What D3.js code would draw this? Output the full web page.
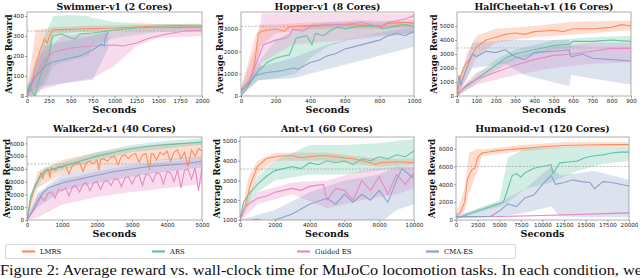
<!DOCTYPE html>
<html>
<head>
<meta charset="utf-8">
<script src="https://cdn.jsdelivr.net/npm/d3@7"></script>
<style>
  body { margin: 0; background: #fff; }
  svg { display: block; }
</style>
</head>
<body>
<svg id="chart" width="640" height="278"></svg>
<script>
// methods and colours (Set2)
const methods = ["LMRS", "ARS", "Guided ES", "CMA-ES"];
const colors = ["#fc8d62", "#66c2a5", "#e78ac3", "#8da0cb"];

// ---------- Swimmer-v1 ----------
const swimmerLMRS = [[0,5],[50,60],[100,150],[150,230],[200,285],[230,265],[260,300],[290,330],[400,332],[600,335],[800,338],[1000,340],[1250,345],[1500,350],[1750,352],[2000,350]];
const swimmerLMRSBand = [[0,0,30],[100,0,330],[250,120,340],[300,310,345],[600,320,350],[1000,325,355],[2000,335,362]];
const swimmerARS = [[0,10],[30,60],[60,20],[90,0],[110,40],[150,100],[200,150],[250,200],[280,280],[300,300],[400,310],[500,290],[550,285],[600,310],[750,315],[1000,330],[1250,340],[1500,345],[1750,343],[2000,345]];
const swimmerARSBand = [[0,0,40],[100,0,120],[200,50,300],[300,150,400],[500,180,405],[700,200,400],[750,250,390],[1000,290,370],[1500,320,360],[2000,320,360]];
const swimmerGES = [[0,0],[100,100],[200,180],[300,220],[500,240],[750,250],[1000,255],[1100,250],[1250,265],[1400,290],[1600,310],[1800,325],[2000,330]];
const swimmerGESBand = [[0,0,30],[150,30,200],[400,60,300],[750,90,310],[1000,150,320],[1250,250,330],[1500,290,340],[2000,300,350]];
const swimmerCMA = [[0,0],[50,60],[100,100],[150,120],[200,150],[300,170],[400,180],[500,190],[600,200],[700,220],[750,230],[800,245],[850,260],[880,250],[900,300],[930,320]];
const swimmerCMABand = [[0,0,40],[100,40,180],[200,50,250],[500,70,280],[750,80,300],[930,240,330]];

// ---------- Hopper-v1 ----------
const hopperLMRS = [[0,200],[50,600],[80,1500],[100,2800],[120,2900],[200,3000],[250,2900],[280,3100],[400,3150],[600,3200],[800,3150],[810,3050],[850,3250],[950,3300],[1000,3250]];
const hopperLMRSBand = [[0,100,300],[80,900,2600],[110,2200,3200],[200,2800,3200],[400,3000,3300],[800,3000,3300],[1000,3100,3400]];
const hopperARS = [[0,200],[50,600],[100,1100],[150,1500],[200,1700],[280,1850],[320,2600],[380,2700],[410,2300],[430,2800],[480,2700],[510,2900],[560,3100],[600,3000],[700,3150],[800,3100],[820,3000],[900,3150],[950,3200],[1000,3100]];
const hopperARSBand = [[0,100,300],[100,700,1500],[200,800,2500],[320,1000,3000],[400,1700,3200],[500,2200,3300],[700,2700,3400],[1000,2800,3300]];
const hopperGES = [[0,300],[50,700],[100,1700],[130,2300],[200,2500],[260,2600],[280,2700],[300,3000],[360,2900],[400,3100],[500,3200],[600,3200],[700,3300],[800,3100],[850,3300],[950,3450],[1000,3600]];
const hopperGESBand = [[0,200,400],[100,1000,2500],[120,1500,3700],[300,2300,3700],[600,2500,3700],[1000,2800,3700]];
const hopperCMA = [[0,0],[30,300],[80,900],[120,1000],[150,1050],[200,1100],[250,1150],[300,1250],[330,1200],[400,1500],[450,1600],[500,1800],[550,1900],[600,2100],[650,2200],[700,2300],[750,2400],[800,2500],[850,2700],[900,2800],[950,2700],[1000,2900]];
const hopperCMABand = [[0,0,200],[100,700,1300],[300,800,1700],[500,1200,2300],[700,1600,2700],[1000,2200,3100]];

// ---------- HalfCheetah-v1 ----------
const cheetahLMRS = [[0,0],[20,1500],[40,2200],[70,2700],[100,3500],[150,4000],[200,4200],[250,4400],[300,4500],[350,4400],[400,4600],[500,4700],[550,4600],[600,4800],[700,4800],[800,4900],[850,5100],[900,5000]];
const cheetahLMRSBand = [[0,0,300],[50,1200,3000],[100,2800,4300],[200,3800,4800],[400,4200,5000],[600,4400,5300],[900,4700,5400]];
const cheetahARS = [[0,0],[30,500],[80,1000],[150,1700],[200,2200],[250,2700],[300,3000],[400,3300],[500,3600],[580,3700],[600,3900],[700,3900],[800,4000],[900,3900]];
const cheetahARSBand = [[0,0,200],[100,900,1500],[200,1800,2600],[300,2600,3300],[500,3300,4000],[700,3600,4200],[900,3600,4300]];
const cheetahGES = [[0,0],[50,800],[100,1200],[200,1700],[300,2200],[400,2600],[500,2900],[600,3000],[700,3200],[800,3400],[900,3400]];
const cheetahGESBand = [[0,0,300],[100,800,1700],[300,1500,2800],[500,2000,3500],[700,2300,3800],[900,2400,3800]];
const cheetahCMA = [[0,200],[10,1500],[20,800],[50,2000],[80,3000],[100,2800],[150,3200],[200,3100],[250,3300],[300,2800],[350,2600],[400,3100],[500,3200],[580,3300],[590,2800],[650,3000],[700,2700],[800,2600],[900,2500]];
const cheetahCMABand = [[0,0,600],[80,2000,3800],[250,2300,4000],[350,1500,4000],[580,700,4000],[590,1500,3600],[900,800,3600]];

// ---------- Walker2d-v1 ----------
const walkerLMRS = [[0,0],[100,1500],[200,2400],[300,3000],[400,3700],[450,3200],[500,3800],[600,4000],[650,3300],[700,4100],[800,3900],[900,4200],[1000,4100],[1100,4300],[1200,3600],[1300,4300],[1400,4400],[1500,4500],[1600,3800],[1700,4500],[1800,4600],[1900,4400],[2000,4700],[2050,3900],[2100,4700],[2200,4800],[2300,4600],[2400,4900],[2500,5000],[2600,4300],[2700,5000],[2800,5100],[2900,4800],[3000,5100],[3100,5200],[3200,4500],[3300,5100],[3400,5200],[3500,3900],[3550,5200],[3600,5200],[3700,4700],[3800,5300],[3900,5100],[4000,5400],[4100,4600],[4200,5300],[4300,5500],[4400,4800],[4500,5300],[4600,4200],[4700,5500],[4800,5000],[4900,5600],[5000,5400]];
const walkerLMRSBand = [[0,0,300],[300,2500,3800],[1000,3600,4700],[2000,4100,5300],[3000,4500,5700],[4000,4700,6000],[5000,4800,6100]];
const walkerARS = [[0,0],[100,1800],[200,2500],[350,3300],[500,3800],[1000,4200],[1500,4600],[2000,5000],[2500,5300],[3000,5600],[3500,5800],[4000,5900],[4500,6000],[5000,6100]];
const walkerARSBand = [[0,0,200],[200,2200,2800],[500,3500,4100],[1000,3900,4500],[2000,4700,5300],[3000,5300,5900],[4000,5600,6200],[5000,5900,6400]];
const walkerCMA = [[0,0],[150,700],[300,1500],[450,2100],[600,2500],[800,2700],[1000,2900],[1500,3200],[2000,3500],[2500,3800],[3000,4000],[3500,4200],[4000,4300],[4500,4400],[5000,4600]];
const walkerCMABand = [[0,0,200],[300,1000,2100],[1000,2300,3600],[2000,2900,4100],[3000,3400,4500],[4000,3800,4800],[5000,4100,5000]];
const walkerGES = [[0,0],[200,800],[300,1300],[400,1800],[500,1500],[600,2100],[700,2200],[800,1700],[900,2400],[1000,2300],[1100,2500],[1200,1900],[1300,2600],[1400,2700],[1500,2200],[1600,2800],[1700,2900],[1800,2300],[1900,2900],[2000,3000],[2100,2400],[2200,3000],[2300,3100],[2400,2700],[2500,3200],[2600,3200],[2700,2600],[2800,3300],[2900,3400],[3000,2800],[3100,3400],[3200,3500],[3300,2700],[3400,3600],[3500,3500],[3600,3000],[3700,3700],[3800,3600],[3900,2800],[4000,3800],[4100,3700],[4200,3000],[4300,3900],[4400,2500],[4500,3900],[4600,4000],[4700,3200],[4800,4100],[4900,2300],[5000,4100]];
const walkerGESBand = [[0,0,200],[300,200,2000],[1000,1200,3200],[2000,1800,3800],[3000,2200,4300],[4000,2500,4600],[5000,2800,4800]];

// ---------- Ant-v1 ----------
const antLMRS = [[0,1000],[300,1700],[600,2800],[1000,3700],[1500,4100],[2000,4200],[2500,4250],[3000,4250],[3500,4150],[4000,4200],[4500,4250],[5000,4250],[5500,4200],[6000,4150],[6500,4100],[7000,4000],[7500,3900],[7800,3800],[8000,3900],[9000,3950],[10000,3900]];
const antLMRSBand = [[0,900,1100],[500,1800,3200],[1000,3300,4000],[2000,4000,4400],[5000,4000,4400],[8000,3700,4100],[10000,3800,4100]];
const antARS = [[0,1100],[200,1900],[500,2300],[1000,2800],[1500,3200],[2000,3500],[2500,3600],[3000,3700],[3500,3600],[4000,3900],[4500,3800],[5000,4000],[5500,3900],[6000,4000],[6500,3800],[7000,4100],[7500,4000],[8000,4200],[8500,4100],[9000,4300],[9500,4200],[10000,4500]];
const antARSBand = [[0,1000,1200],[1000,2400,3200],[2000,3000,4000],[4000,3300,4800],[6000,3300,4800],[8000,3500,4900],[10000,3800,5100]];
const antGES = [[0,1000],[300,1700],[1000,2100],[1500,2200],[2000,2400],[2500,2500],[3000,2600],[3500,2500],[4000,2700],[4800,2800],[5000,2000],[5500,2600],[6000,2500],[6500,2000],[7000,3000],[7500,2500],[8000,3200],[8500,2300],[9000,3300],[9500,2800],[10000,3400]];
const antGESBand = [[0,900,1100],[1000,1800,2400],[3000,2300,2900],[5000,1600,3000],[7000,2000,3500],[9000,2300,3700],[10000,2600,3800]];
const antCMA = [[0,900],[500,950],[1000,1050],[1500,900],[2000,1000],[3000,1300],[4000,1800],[5000,2100],[5500,1800],[6000,2300],[6500,1900],[7000,2300],[7500,2000],[8000,2500],[8500,1900],[9000,3000],[9300,3600],[10000,3100]];
const antCMABand = [[0,800,1000],[2000,800,1500],[4000,800,2400],[6000,800,3000],[8000,800,3300],[9000,1500,3700],[10000,1800,3700]];

// ---------- Humanoid-v1 ----------
const humanLMRS = [[0,500],[500,800],[1000,2000],[1300,4500],[1800,5600],[2200,5800],[2500,7000],[3000,7500],[5000,7800],[7500,8000],[10000,8200],[12500,8350],[15000,8400],[17500,8450],[20000,8450]];
const humanLMRSBand = [[0,300,700],[1000,1000,3500],[1500,3000,7500],[2500,5500,8000],[3000,7200,7900],[7500,7700,8400],[12500,8100,8700],[20000,8250,8700]];
const humanARS = [[0,200],[1000,500],[2500,1000],[4000,1500],[5500,2000],[6000,3500],[6500,5000],[7000,5200],[7500,4800],[8000,5300],[9000,5800],[10000,6000],[11000,6200],[11200,5200],[12000,6400],[13000,6500],[14000,6600],[15000,7000],[16000,7200],[17000,7300],[18000,7500],[19000,7600],[20000,7600]];
const humanARSBand = [[0,100,300],[5000,1500,2200],[6000,2000,7000],[8000,3500,8000],[11000,4200,8100],[14000,5500,8200],[17000,6300,8200],[20000,6600,8200]];
const humanGES = [[0,300],[5000,400],[10000,500],[15000,650],[20000,800]];
const humanGESBand = [[0,250,350],[10000,450,550],[20000,700,900]];
const humanCMA = [[0,400],[4000,400],[5000,1000],[6000,1800],[7000,1500],[8000,2500],[9000,2800],[10000,4000],[11000,5000],[11500,4000],[12500,4200],[13500,4500],[14500,4300],[15500,4200],[16000,3500],[17000,4300],[18000,4200],[19000,4000],[20000,3800]];
const humanCMABand = [[0,300,500],[5000,400,2000],[8000,800,3500],[11000,1500,6000],[12000,400,5000],[16000,300,5500],[20000,300,4500]];

// panels: title, axis domains, ticks, threshold, series (in legend order)
const panels = [
  { title: "Swimmer-v1 (2 Cores)", box: [27, 12, 202, 96], xMax: 2000, xTicks: d3.range(0, 2001, 250), yDom: [0, 420], yTicks: [0,100,200,300,400], thr: 325, yLab: 12,
    series: [[swimmerLMRS, swimmerLMRSBand], [swimmerARS, swimmerARSBand], [swimmerGES, swimmerGESBand], [swimmerCMA, swimmerCMABand]] },
  { title: "Hopper-v1 (8 Cores)", box: [241, 12, 414, 96], xMax: 1000, xTicks: d3.range(0, 1001, 200), yDom: [0, 3760], yTicks: [0,1000,2000,3000], thr: 3120, yLab: 223,
    series: [[hopperLMRS, hopperLMRSBand], [hopperARS, hopperARSBand], [hopperGES, hopperGESBand], [hopperCMA, hopperCMABand]] },
  { title: "HalfCheetah-v1 (16 Cores)", box: [457, 12, 631, 96], xMax: 900, xTicks: d3.range(0, 901, 100), yDom: [0, 6000], yTicks: [0,1000,2000,3000,4000,5000], thr: 3430, yLab: 437,
    series: [[cheetahLMRS, cheetahLMRSBand], [cheetahARS, cheetahARSBand], [cheetahGES, cheetahGESBand], [cheetahCMA, cheetahCMABand]] },
  { title: "Walker2d-v1 (40 Cores)", box: [27, 137, 202, 220], xMax: 5000, xTicks: d3.range(0, 5001, 1000), yDom: [0, 6500], yTicks: d3.range(0, 6001, 1000), thr: 4390, yLab: 9.5,
    series: [[walkerLMRS, walkerLMRSBand], [walkerARS, walkerARSBand], [walkerGES, walkerGESBand], [walkerCMA, walkerCMABand]] },
  { title: "Ant-v1 (60 Cores)", box: [240, 137, 414, 220], xMax: 10000, xTicks: d3.range(0, 10001, 2000), yDom: [1000, 5200], yTicks: [1000,2000,3000,4000,5000], thr: 3580, yLab: 220,
    series: [[antLMRS, antLMRSBand], [antARS, antARSBand], [antGES, antGESBand], [antCMA, antCMABand]] },
  { title: "Humanoid-v1 (120 Cores)", box: [456, 137, 629, 220], xMax: 20000, xTicks: d3.range(0, 20001, 2500), yDom: [0, 9300], yTicks: [0,2000,4000,6000,8000], thr: 6000, yLab: 435,
    series: [[humanLMRS, humanLMRSBand], [humanARS, humanARSBand], [humanGES, humanGESBand], [humanCMA, humanCMABand]] }
];

const svg = d3.select("#chart");
const serif = "'DejaVu Serif', serif";
const sans = "'DejaVu Sans', sans-serif";

panels.forEach((p, pi) => {
  const [x0, y0, x1, y1] = p.box;
  const x = d3.scaleLinear().domain([0, p.xMax]).range([x0, x1]);
  const y = d3.scaleLinear().domain(p.yDom).range([y1, y0]);
  const g = svg.append("g");

  const clipId = "clip" + pi;
  g.append("clipPath").attr("id", clipId)
    .append("rect").attr("x", x0).attr("y", y0).attr("width", x1 - x0).attr("height", y1 - y0);
  const plot = g.append("g").attr("clip-path", `url(#${clipId})`);

  // bands
  p.series.forEach((s, i) => {
    const area = d3.area().x(d => x(d[0])).y0(d => y(d[1])).y1(d => y(d[2]));
    plot.append("path").datum(s[1]).attr("d", area)
      .attr("fill", colors[i]).attr("fill-opacity", 0.3);
  });

  // threshold
  plot.append("line")
    .attr("x1", x0).attr("x2", x1).attr("y1", y(p.thr)).attr("y2", y(p.thr))
    .attr("stroke", "#aaa").attr("stroke-width", 0.8).attr("stroke-dasharray", "2,1.5");

  // mean lines
  p.series.forEach((s, i) => {
    const line = d3.line().x(d => x(d[0])).y(d => y(d[1]));
    plot.append("path").datum(s[0]).attr("d", line)
      .attr("fill", "none").attr("stroke", colors[i]).attr("stroke-width", 1.1);
  });

  // frame
  g.append("rect").attr("x", x0).attr("y", y0).attr("width", x1 - x0).attr("height", y1 - y0)
    .attr("fill", "none").attr("stroke", "#999").attr("stroke-width", 0.8);

  // axes
  const xa = g.append("g").attr("transform", `translate(0,${y1})`)
    .call(d3.axisBottom(x).tickValues(p.xTicks).tickSize(2).tickPadding(1).tickFormat(d3.format("d")));
  const ya = g.append("g").attr("transform", `translate(${x0},0)`)
    .call(d3.axisLeft(y).tickValues(p.yTicks).tickSize(2).tickPadding(1).tickFormat(d3.format("d")));
  [xa, ya].forEach(a => {
    a.select(".domain").remove();
    a.selectAll("line").attr("stroke", "#666").attr("stroke-width", 0.6);
    a.selectAll("text").attr("font-family", sans).attr("font-size", 5.6).attr("fill", "#222");
  });

  // title and labels
  g.append("text").attr("x", (x0 + x1) / 2).attr("y", pi < 3 ? 9.5 : 132)
    .attr("text-anchor", "middle").attr("font-family", serif).attr("font-weight", "bold")
    .attr("font-size", 9.3).attr("fill", "#111").text(p.title);
  g.append("text").attr("x", (x0 + x1) / 2).attr("y", y1 + 16.5)
    .attr("text-anchor", "middle").attr("font-family", serif).attr("font-weight", "bold")
    .attr("font-size", 9.5).attr("fill", "#111").text("Seconds");
  g.append("text")
    .attr("transform", `translate(${p.yLab},${(y0 + y1) / 2}) rotate(-90)`)
    .attr("text-anchor", "middle").attr("font-family", serif).attr("font-weight", "bold")
    .attr("font-size", 8.8).attr("fill", "#111").text("Average Reward");
});

// legend
const legend = svg.append("g");
legend.append("rect").attr("x", 5.5).attr("y", 244.5).attr("width", 510).attr("height", 14)
  .attr("fill", "#fff").attr("stroke", "#ccc").attr("stroke-width", 0.8).attr("rx", 1.5);
const legendX = [22, 152, 297, 426];
methods.forEach((m, i) => {
  legend.append("line").attr("x1", legendX[i]).attr("x2", legendX[i] + 13)
    .attr("y1", 251.5).attr("y2", 251.5).attr("stroke", colors[i]).attr("stroke-width", 2.2);
  legend.append("text").attr("x", legendX[i] + 18).attr("y", 254.3)
    .attr("font-family", serif).attr("font-size", 6.8).attr("fill", "#111").text(m);
});

// caption (cut off at the bottom of the frame)
svg.append("text").attr("x", 0).attr("y", 275)
  .attr("font-family", "'Liberation Serif', serif").attr("font-size", 14.5)
  .attr("textLength", 642).attr("lengthAdjust", "spacingAndGlyphs")
  .attr("fill", "#111")
  .text("Figure 2: Average reward vs. wall-clock time for MuJoCo locomotion tasks. In each condition, we");
</script>
</body>
</html>
